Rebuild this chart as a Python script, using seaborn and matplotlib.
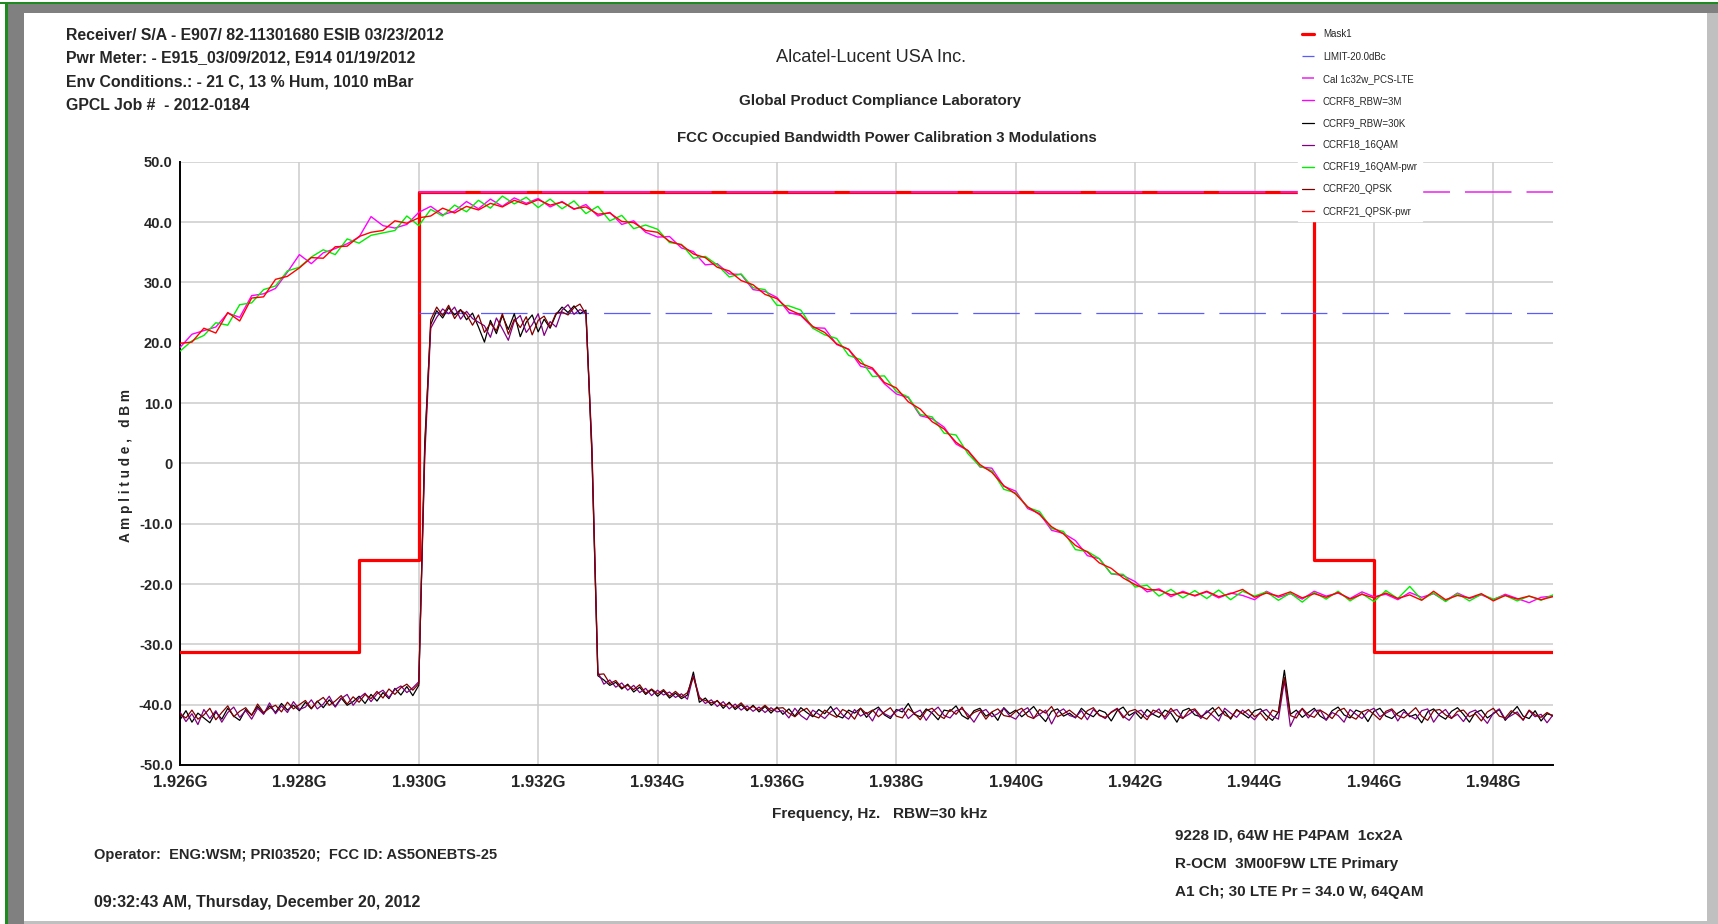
import numpy as np
import matplotlib
matplotlib.use("Agg")
import matplotlib.pyplot as plt
import seaborn as sns
from matplotlib import font_manager
from matplotlib.patches import Rectangle
from matplotlib.ticker import MultipleLocator, FuncFormatter

# ---------------- data (MHz, dBm) ----------------
wide_start, wide_step = 1926.0, 0.2      # 3 MHz RBW sweeps
narrow_start, narrow_step = 1926.0, 0.1  # 30 kHz RBW sweeps

ccrf8_rbw3m = [
    19.2, 21.4, 22.0, 22.6, 24.9, 24.2, 27.8, 28.1, 29.0, 31.7,
    34.6, 33.1, 34.9, 35.6, 36.4, 37.5, 40.9, 39.4, 39.0, 39.6,
    41.6, 42.6, 41.2, 41.8, 43.4, 42.2, 43.8, 42.6, 44.0, 43.1,
    43.9, 42.5, 43.4, 42.1, 42.9, 41.0, 41.6, 39.6, 40.2, 38.3,
    37.5, 37.6, 35.7, 35.1, 32.9, 33.1, 31.4, 31.3, 28.8, 28.5,
    27.5, 25.0, 24.5, 22.5, 22.4, 19.7, 18.9, 16.1, 15.6, 13.2,
    11.5, 10.9, 7.9, 7.4, 6.0, 3.2, 2.1, -0.6, -0.8, -3.8,
    -4.6, -7.5, -8.3, -11.1, -11.6, -12.8, -15.3, -15.8, -18.3, -18.6,
    -19.6, -21.3, -20.8, -22.1, -21.2, -22.0, -21.3, -22.3, -21.5, -21.9,
    -22.6, -21.2, -22.2, -21.6, -22.5, -21.2, -22.0, -21.5, -22.4, -21.3,
    -22.1, -21.7, -22.6, -21.4, -22.2, -21.6, -22.8, -21.5, -22.4, -21.8,
    -22.6, -21.7, -22.4, -23.1, -22.2, -22.0,
]
ccrf19_16qam_pwr = [
    18.6, 20.3, 21.2, 23.3, 22.9, 26.3, 26.6, 28.8, 29.4, 31.9,
    32.5, 34.2, 35.4, 34.6, 37.2, 36.5, 37.8, 38.2, 38.6, 41.0,
    39.4, 42.1, 41.0, 42.8, 41.7, 43.6, 42.3, 44.3, 43.0, 44.1,
    42.4, 43.8, 42.2, 43.5, 41.4, 42.6, 40.2, 41.1, 38.9, 39.5,
    38.8, 36.6, 36.3, 34.0, 34.3, 32.9, 30.9, 31.4, 29.1, 28.8,
    26.2, 26.1, 25.4, 22.4, 21.3, 20.7, 17.9, 17.2, 14.4, 14.5,
    11.9, 11.0, 8.1, 7.7, 5.0, 4.7, 1.6, -0.5, -1.2, -4.3,
    -4.9, -7.3, -8.0, -10.8, -11.3, -14.3, -14.6, -15.8, -18.3, -18.4,
    -20.5, -20.2, -22.0, -20.9, -22.3, -21.1, -22.4, -21.0, -22.6, -21.2,
    -22.0, -21.3, -22.7, -21.5, -23.0, -21.4, -22.5, -21.2, -22.8, -21.6,
    -22.9, -21.1, -22.4, -20.4, -22.6, -21.5, -22.9, -21.6, -22.8, -21.7,
    -22.5, -21.9, -22.8, -22.0, -22.7, -21.8,
]
ccrf21_qpsk_pwr = [
    19.9, 20.1, 22.4, 21.6, 25.0, 23.6, 27.4, 27.6, 30.5, 31.0,
    32.4, 34.1, 34.0, 35.9, 36.0, 37.6, 38.3, 38.6, 40.2, 39.8,
    40.7, 41.0, 42.3, 41.5, 42.6, 42.0, 43.1, 42.5, 43.6, 42.9,
    43.7, 42.8, 43.3, 42.2, 42.5, 41.3, 41.5, 40.1, 39.9, 38.6,
    38.3, 36.8, 36.2, 34.7, 34.1, 32.5, 31.9, 30.3, 29.6, 28.0,
    27.3, 25.5, 24.6, 22.7, 21.7, 19.8, 18.9, 16.6, 15.8, 13.4,
    12.5, 10.2, 9.0, 6.9, 5.7, 3.5, 2.1, -0.2, -1.5, -3.7,
    -5.1, -7.2, -8.5, -10.5, -11.7, -13.6, -14.7, -16.5, -17.4, -19.0,
    -20.1, -20.9, -21.0, -21.8, -21.4, -21.9, -21.2, -22.1, -21.6, -20.9,
    -22.2, -21.5, -22.0, -21.3, -22.3, -21.6, -22.2, -21.4, -22.5, -21.7,
    -22.3, -21.5, -22.4, -21.8, -22.7, -21.2, -22.6, -21.9, -22.3, -21.6,
    -22.8, -21.9, -22.5, -22.0, -22.6, -22.1,
]

ccrf9_rbw30k = [
    -42.5, -41.0, -42.9, -41.4, -42.2, -43.0, -41.2, -42.4, -40.6, -41.9,
    -42.6, -40.8, -41.7, -40.3, -41.5, -40.2, -41.3, -39.8, -40.9, -40.1,
    -41.0, -39.6, -40.7, -39.4, -40.5, -39.2, -40.3, -38.9, -40.1, -39.5,
    -38.6, -39.8, -38.3, -39.4, -38.0, -39.0, -37.3, -38.4, -37.0, -38.5,
    -36.8, 3.5, 23.0, 25.3, 24.1, 25.8, 24.6, 25.5, 23.8, 24.9,
    22.6, 20.1, 23.7, 21.5, 24.5, 22.2, 24.8, 21.0, 23.4, 24.6,
    21.8, 23.9, 22.4, 24.7, 25.9, 25.0, 26.1, 24.8, 25.4, 1.5,
    -35.2, -35.9, -36.8, -36.3, -37.4, -36.6, -37.9, -37.1, -38.3, -37.5,
    -38.6, -37.7, -38.9, -38.1, -39.0, -38.4, -34.6, -39.6, -38.9, -40.1,
    -39.3, -40.6, -39.6, -40.8, -40.0, -41.0, -40.1, -41.2, -40.3, -41.4,
    -40.4,
    -41.6, -40.7, -41.9, -40.5, -41.3, -42.0, -40.8, -41.5, -40.3, -41.8,
    -42.2, -40.9, -41.4, -40.6, -42.1, -41.0, -40.4, -41.7, -42.3, -40.8,
    -41.2, -39.8, -41.6, -42.0, -40.7, -41.4, -42.5, -40.9, -41.1, -40.2,
    -41.8, -42.4, -41.0, -40.6, -41.9, -41.3, -42.6, -40.5, -41.5, -40.9,
    -42.0, -41.2, -40.3, -41.7, -42.8, -41.1, -40.7, -41.9, -41.4, -42.2,
    -40.6, -41.5, -42.0, -40.9, -41.3, -42.7, -41.0, -40.4, -41.8, -41.2,
    -42.3, -40.8, -41.6, -42.1, -40.9, -41.4, -42.9, -41.0, -40.6, -41.7,
    -42.0, -41.3, -40.5, -41.9, -41.1, -42.4, -40.8, -41.5, -42.2, -41.0,
    -40.7, -41.8, -42.6, -41.2, -34.3, -41.6, -40.9, -42.1, -41.3, -40.6,
    -41.9, -42.5, -41.0, -40.4, -41.7, -42.2, -40.9, -41.3, -42.8, -41.1,
    -40.6, -41.9, -42.3, -41.4, -40.8, -42.0, -41.6, -43.0, -41.2, -40.7,
    -41.8, -42.4, -41.1, -40.5, -41.6, -42.9, -41.3, -40.9, -42.2, -41.5,
    -40.8, -42.6, -41.4, -40.3, -41.9, -42.3, -41.0, -42.7, -41.5, -41.8,
]
ccrf18_16qam = [
    -41.2, -42.8, -41.5, -43.3, -40.8, -42.3, -41.0, -42.9, -41.3, -40.4,
    -42.1, -41.0, -42.4, -40.6, -41.6, -39.7, -41.5, -40.2, -41.3, -39.5,
    -40.8, -40.4, -39.2, -40.7, -39.9, -38.6, -40.4, -39.0, -38.3, -40.1,
    -38.9, -38.1, -39.5, -38.2, -37.6, -38.8, -37.5, -36.9, -38.0, -37.2,
    -36.2, 1.0, 22.4, 24.2, 25.6, 24.8, 25.9, 23.9, 25.2, 24.0,
    23.4, 22.8, 20.9, 24.1, 22.3, 20.4, 23.6, 24.5, 21.7, 23.0,
    24.8, 21.2, 23.5, 22.6, 25.4, 26.3, 24.7, 25.5, 24.9, 3.0,
    -34.6, -36.6, -35.9, -37.1, -36.4, -37.6, -36.8, -38.0, -37.3, -38.5,
    -37.6, -38.4, -37.9, -38.8, -38.2, -39.1, -35.2, -38.7, -39.8, -39.2,
    -40.3, -39.5, -40.7, -39.9, -40.9, -40.2, -41.1, -40.4, -41.3, -40.5,
    -41.2,
    -41.0, -42.2, -40.6, -41.8, -42.5, -40.9, -41.6, -42.3, -41.2, -40.5,
    -41.7, -42.4, -40.8, -41.9, -41.3, -42.7, -40.7, -41.5, -42.0, -41.1,
    -40.6, -42.3, -41.4, -40.9, -42.6, -41.2, -40.4, -41.8, -42.2, -41.0,
    -40.7, -41.6, -42.9, -41.3, -40.8, -42.0, -41.5, -40.6, -41.9, -42.4,
    -41.1, -40.5, -42.2, -41.6, -40.9, -43.2, -41.3, -40.7, -41.8, -42.1,
    -41.0, -42.5, -40.8, -41.7, -42.3, -41.2, -40.6, -41.9, -42.6, -41.3,
    -40.9, -42.0, -41.5, -40.7, -42.4, -41.1, -40.8, -42.2, -41.6, -40.9,
    -42.3, -41.0, -41.8, -42.7, -40.6, -41.4, -42.1, -40.9, -41.7, -42.5,
    -41.2, -40.8, -41.9, -42.4, -36.0, -43.6, -41.5, -40.7, -42.2, -41.0,
    -40.9, -42.6, -41.3, -41.8, -42.9, -40.8, -41.6, -42.3, -41.1, -40.6,
    -42.0, -41.4, -40.9, -42.7, -41.2, -41.8, -42.4, -41.0, -40.7, -42.9,
    -41.5, -40.8, -42.2, -41.6, -42.8, -41.3, -40.9, -41.9, -43.1, -41.4,
    -40.7, -42.4, -41.8, -41.2, -42.6, -41.0, -42.0, -41.6, -43.0, -41.7,
]
ccrf20_qpsk = [
    -41.6, -42.2, -40.9, -42.4, -41.7, -40.6, -42.5, -41.3, -40.2, -42.0,
    -41.1, -40.5, -41.8, -39.9, -41.3, -40.6, -40.1, -41.2, -39.6, -40.7,
    -40.0, -39.3, -40.6, -39.5, -38.8, -40.1, -39.4, -38.5, -39.9, -38.7,
    -39.6, -38.3, -39.0, -37.8, -38.9, -37.4, -38.3, -37.2, -36.6, -37.6,
    -36.5, 2.2, 23.8, 25.9, 24.5, 26.2, 24.0, 25.4, 24.7, 22.9,
    24.6, 21.7, 23.2, 22.0, 24.8, 21.4, 23.9, 22.5, 24.3, 21.3,
    23.7, 24.4, 22.6, 24.9, 25.1, 24.6, 25.8, 26.4, 24.7, 2.1,
    -35.0, -34.9, -36.5, -36.0, -37.2, -36.8, -37.5, -36.7, -38.1, -37.4,
    -38.2, -37.5, -38.6, -37.8, -38.7, -38.0, -35.4, -39.0, -39.3, -39.7,
    -39.4, -40.2, -39.8, -40.5, -39.7, -40.8, -40.3, -40.9, -40.1, -41.0,
    -40.6,
    -40.5, -41.4, -42.0, -41.1, -40.6, -41.8, -42.2, -40.9, -41.6, -42.1,
    -40.8, -41.3, -42.4, -40.6, -41.5, -40.9, -42.0, -41.2, -40.5, -41.9,
    -42.2, -40.7, -41.4, -42.5, -41.0, -40.6, -41.7, -42.3, -40.8, -41.6,
    -40.4, -42.1, -41.3, -40.9, -42.4, -41.2, -40.7, -41.8, -42.0, -41.1,
    -40.6, -41.9, -42.3, -40.8, -41.4, -40.3, -42.0, -41.5, -40.9, -41.7,
    -42.4, -41.0, -40.5, -41.8, -42.1, -41.3, -40.7, -42.2, -41.1, -40.8,
    -41.6, -42.5, -40.9, -41.3, -42.0, -40.6, -41.8, -42.3, -41.0, -40.7,
    -41.9, -42.4, -41.2, -40.4, -41.7, -42.2, -40.9, -41.5, -40.8, -42.0,
    -41.4, -42.6, -40.9, -41.3, -35.5, -41.8, -42.2, -40.6, -41.7, -42.1,
    -40.9, -41.5, -42.3, -41.0, -40.6, -41.9, -42.4, -41.2, -40.8, -41.6,
    -42.5, -41.1, -40.7, -41.8, -42.2, -41.4, -40.5, -41.9, -42.6, -41.0,
    -40.8, -41.7, -42.3, -41.1, -40.9, -42.0, -41.5, -42.7, -41.2, -40.6,
    -41.9, -42.2, -41.0, -41.6, -42.5, -40.9, -41.7, -42.1, -41.3, -41.9,
]

# mask / limit lines
mask_edges = [1926, 1929, 1930, 1945, 1946, 1949]
mask_levels = [-31.2, -16.0, 45.0, -16.0, -31.2, -31.2]
limit_span = [1930, 1949]
limit_level = 25.0   # LIMIT-20.0dBc
cal_level = 45.0     # Cal 1c32w_PCS-LTE

legend_labels = ["Mask1", "LIMIT-20.0dBc", "Cal 1c32w_PCS-LTE", "CCRF8_RBW=3M",
                 "CCRF9_RBW=30K", "CCRF18_16QAM", "CCRF19_16QAM-pwr",
                 "CCRF20_QPSK", "CCRF21_QPSK-pwr"]

header_lines = ["Receiver/ S/A - E907/ 82-11301680 ESIB 03/23/2012",
                "Pwr Meter: - E915_03/09/2012, E914 01/19/2012",
                "Env Conditions.: - 21 C, 13 % Hum, 1010 mBar",
                "GPCL Job #  - 2012-0184"]
footer_right = ["9228 ID, 64W HE P4PAM  1cx2A",
                "R-OCM  3M00F9W LTE Primary",
                "A1 Ch; 30 LTE Pr = 34.0 W, 64QAM"]

# ---------------- style ----------------
sns.set_style("white")
names = {f.name for f in font_manager.fontManager.ttflist}
if "Liberation Sans Narrow" in names:
    face, k = "Liberation Sans Narrow", 1.25
else:
    face, k = "Liberation Sans", 1.0
plt.rcParams["font.family"] = [face, "DejaVu Sans"]
plt.rcParams["font.weight"] = "bold"
plt.rcParams["lines.scale_dashes"] = False

W, H = 1718.0, 924.0
fig = plt.figure(figsize=(W / 100, H / 100), dpi=100)
fig.patch.set_facecolor("white")

# window frame
def frame_rect(x0, y0, x1, y1, color):
    fig.add_artist(Rectangle((x0 / W, 1 - y1 / H), (x1 - x0) / W, (y1 - y0) / H,
                             transform=fig.transFigure, facecolor=color,
                             edgecolor="none", zorder=0))

frame_rect(0, 2, W, 4, "#1f8a1f")
frame_rect(5, 2, 8, H, "#1f8a1f")
frame_rect(8, 4, W, 13, "#808080")
frame_rect(8, 4, 24, H, "#808080")
frame_rect(1707, 13, W, H, "#c0c0c0")
frame_rect(24, 921, 1707, H, "#c0c0c0")

ax = fig.add_axes([180 / W, 1 - 765 / H, (1553 - 180) / W, (765 - 161.7) / H])

wide_f = wide_start + wide_step * np.arange(len(ccrf8_rbw3m))
narrow_f = narrow_start + narrow_step * np.arange(len(ccrf9_rbw30k))

# mask and limits
ax.step(mask_edges, mask_levels, where="post", color="#ff0000", lw=2.3,
        label=legend_labels[0], zorder=3)
ax.plot(limit_span, [limit_level] * 2, color="#5a5aff", lw=0.9,
        linestyle=(0, (33.5, 10.8)), label=legend_labels[1], zorder=3)
ax.plot(limit_span, [cal_level] * 2, color="#ee22ee", lw=1.1,
        linestyle=(0, (33.5, 10.8)), label=legend_labels[2], zorder=3)

traces = [
    (wide_f, ccrf8_rbw3m, "#ff00ff", 1.0, legend_labels[3]),
    (narrow_f, ccrf9_rbw30k, "#000000", 0.9, legend_labels[4]),
    (narrow_f, ccrf18_16qam, "#800080", 0.9, legend_labels[5]),
    (wide_f, ccrf19_16qam_pwr, "#00ee00", 1.0, legend_labels[6]),
    (narrow_f, ccrf20_qpsk, "#800000", 0.9, legend_labels[7]),
    (wide_f, ccrf21_qpsk_pwr, "#ff0000", 1.0, legend_labels[8]),
]
for fx, fy, col, lw, lab in traces:
    sns.lineplot(x=fx, y=fy, ax=ax, color=col, lw=lw, label=lab,
                 estimator=None, sort=False, zorder=4)

# axes
ax.set_xlim(1926, 1949)
ax.set_ylim(-50, 50)
ax.xaxis.set_major_locator(MultipleLocator(2))
ax.xaxis.set_minor_locator(MultipleLocator(0.4))
ax.yaxis.set_major_locator(MultipleLocator(10))
ax.yaxis.set_minor_locator(MultipleLocator(2))
ax.xaxis.set_major_formatter(FuncFormatter(lambda v, p: f"{v / 1000:.3f}G"))
ax.yaxis.set_major_formatter(FuncFormatter(lambda v, p: "0" if abs(v) < 1e-9 else f"{v:.1f}"))
ax.grid(True, which="major", color="#cccccc", lw=1.1)
ax.set_axisbelow(True)
for s in ["top", "right"]:
    ax.spines[s].set_visible(False)
for s in ["left", "bottom"]:
    ax.spines[s].set_color("black")
    ax.spines[s].set_linewidth(1.4)
ax.tick_params(axis="y", which="major", direction="inout", length=6.5, width=1.2,
               pad=2, labelsize=10.5 * k)
ax.tick_params(axis="y", which="minor", direction="inout", length=3.6, width=1.0)
ax.tick_params(axis="x", which="major", direction="inout", length=8.6, width=1.2,
               pad=3, labelsize=12 * k)
ax.tick_params(axis="x", which="minor", direction="inout", length=4.3, width=1.0)
ax.set_xlabel("")
ax.set_ylabel("")

# legend (white box hides the lines behind it, as in the original)
handles, labels = ax.get_legend_handles_labels()
order = [labels.index(l) for l in legend_labels]
leg = ax.legend([handles[i] for i in order], [labels[i] for i in order],
                loc="upper left", bbox_to_anchor=(1298 / W, 1 - 25 / H),
                bbox_transform=fig.transFigure, frameon=True, facecolor="white",
                edgecolor="white", framealpha=1, fancybox=False,
                prop={"size": 7.0 * k, "weight": "normal"}, handlelength=1.15,
                handletextpad=0.95, labelspacing=1.25, borderpad=0.45,
                borderaxespad=0)
leg.set_zorder(10)

# texts
def ftext(x, y, s, **kw):
    fig.text(x / W, 1 - y / H, s, **kw)

for i, line in enumerate(header_lines):
    ftext(66, 35 + 23.4 * i, line, fontsize=11.4 * k, va="center", ha="left")
ftext(871, 57, "Alcatel-Lucent USA Inc.", fontsize=13.1 * k, weight="normal",
      va="center", ha="center")
ftext(880, 101, "Global Product Compliance Laboratory", fontsize=10.9 * k,
      va="center", ha="center")
ftext(887, 138, "FCC Occupied Bandwidth Power Calibration 3 Modulations",
      fontsize=10.8 * k, va="center", ha="center")
ftext(880, 814, "Frequency, Hz.   RBW=30 kHz", fontsize=11.1 * k, va="center",
      ha="center")
ftext(126, 465, "A m p l i t u d e ,   d B m", fontsize=9.8 * k, va="center",
      ha="center", rotation=90)
ftext(94, 855, "Operator:  ENG:WSM; PRI03520;  FCC ID: AS5ONEBTS-25",
      fontsize=10.5 * k, va="center", ha="left")
ftext(94, 902, "09:32:43 AM, Thursday, December 20, 2012", fontsize=11.5 * k,
      va="center", ha="left")
for i, line in enumerate(footer_right):
    ftext(1175, 836 + 28 * i, line, fontsize=11 * k, va="center", ha="left")

fig.savefig("out.png", dpi=100)
